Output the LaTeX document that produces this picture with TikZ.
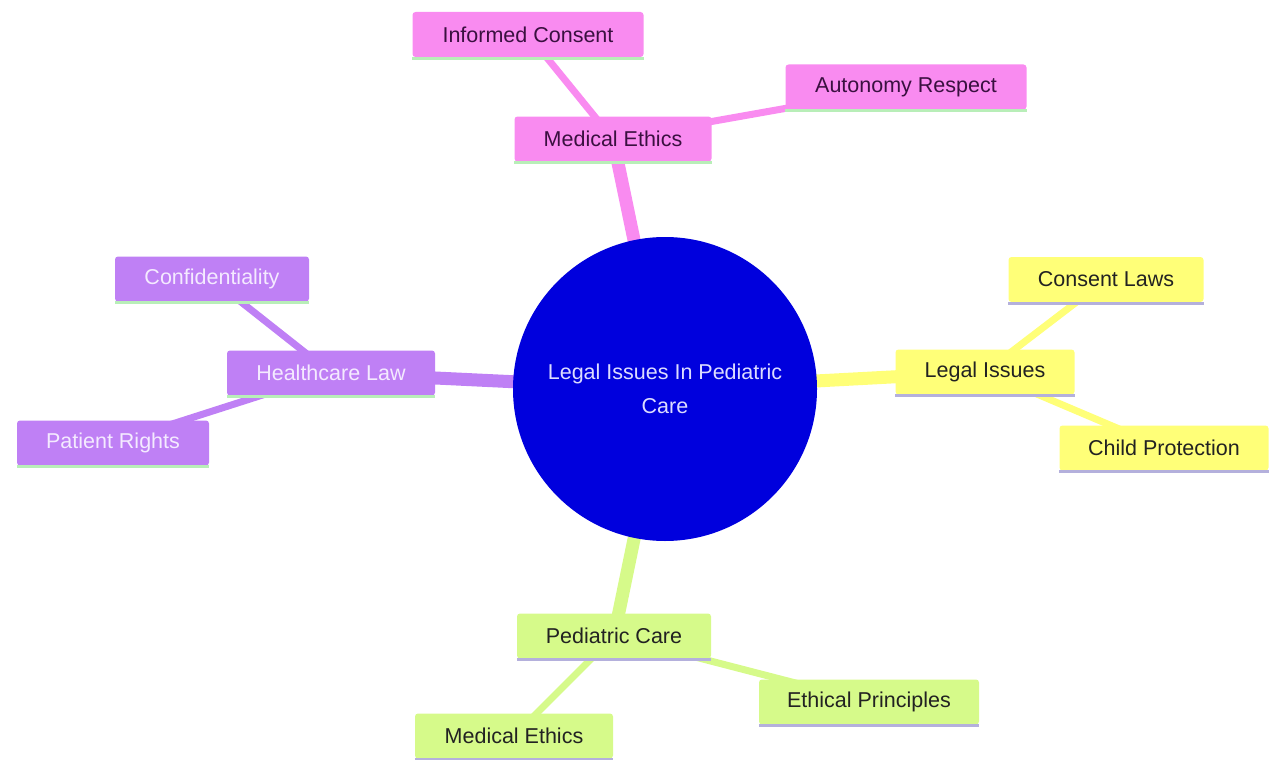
\documentclass[tikz,border=0pt]{standalone}
\usepackage{fontspec}
\setmainfont{Liberation Sans}
\usetikzlibrary{backgrounds}
\definecolor{pk}{HTML}{F98BF0}
\definecolor{pktext}{HTML}{3A1040}
\definecolor{pu}{HTML}{BF80F5}
\definecolor{putext}{HTML}{F4EAFF}
\definecolor{ye}{HTML}{FFFF78}
\definecolor{yetext}{HTML}{222222}
\definecolor{gr}{HTML}{D6FA8A}
\definecolor{grtext}{HTML}{222222}
\definecolor{cblue}{HTML}{0000DD}
\definecolor{ctext}{HTML}{DCDCFF}
\definecolor{bgreen}{HTML}{B8EEB8}
\definecolor{blav}{HTML}{B4B0DC}
\begin{document}
\begin{tikzpicture}[x=1pt,y=-1pt,
  font=\fontsize{21.5}{26}\selectfont,
  box/.style={rectangle, rounded corners=3pt, minimum height=45pt, inner sep=0pt, anchor=center},
  pkbox/.style={box, fill=pk, text=pktext},
  pubox/.style={box, fill=pu, text=putext},
  yebox/.style={box, fill=ye, text=yetext},
  grbox/.style={box, fill=gr, text=grtext},
  mainedge/.style={line width=13pt},
  subedge/.style={line width=7pt},
  bline/.style={line width=3pt}]
\useasboundingbox (0,0) rectangle (1269,760);

\node[circle, fill=cblue, minimum size=304pt, inner sep=0pt, align=center, text=ctext,
  font=\fontsize{21.5}{34}\selectfont] (c) at (665,389) {Legal Issues In Pediatric\\Care};

% Medical Ethics branch (pink)
\node[pkbox, minimum width=197pt] (me) at (613,139) {Medical Ethics};
\node[pkbox, minimum width=231pt] (ic) at (528,34.5) {Informed Consent};
\node[pkbox, minimum width=241pt] (ar) at (906,87) {Autonomy Respect};

% Healthcare Law branch (purple)
\node[pubox, minimum width=208pt] (hl) at (331,373) {Healthcare Law};
\node[pubox, minimum width=194pt] (cf) at (212,279) {Confidentiality};
\node[pubox, minimum width=192pt] (pr) at (113,443) {Patient Rights};

% Legal Issues branch (yellow)
\node[yebox, minimum width=179pt] (li) at (985,372) {Legal Issues};
\node[yebox, minimum width=195pt] (cl) at (1106,279.5) {Consent Laws};
\node[yebox, minimum width=209pt] (cp) at (1164,448) {Child Protection};

% Pediatric Care branch (green)
\node[grbox, minimum width=194pt] (pc) at (614,636) {Pediatric Care};
\node[grbox, minimum width=220pt] (ep) at (869,702) {Ethical Principles};
\node[grbox, minimum width=198pt] (mb) at (514,736) {Medical Ethics};

% bottom border lines
\foreach \n in {me,ic,ar,hl,cf,pr}
  \draw[bline, bgreen] ([yshift=-1pt]\n.south west) -- ([yshift=-1pt]\n.south east);
\foreach \n in {li,cl,cp,pc,ep,mb}
  \draw[bline, blav] ([yshift=-1pt]\n.south west) -- ([yshift=-1pt]\n.south east);

\begin{scope}[on background layer]
  \draw[mainedge, pk] (c.center) -- (me.center);
  \draw[subedge, pk] (me.center) -- (ic.center);
  \draw[subedge, pk] (me.center) -- (ar.center);
  \draw[mainedge, pu] (c.center) -- (hl.center);
  \draw[subedge, pu] (hl.center) -- (cf.center);
  \draw[subedge, pu] (hl.center) -- (pr.center);
  \draw[mainedge, ye] (c.center) -- (li.center);
  \draw[subedge, ye] (li.center) -- (cl.center);
  \draw[subedge, ye] (li.center) -- (cp.center);
  \draw[mainedge, gr] (c.center) -- (pc.center);
  \draw[subedge, gr] (pc.center) -- (ep.center);
  \draw[subedge, gr] (pc.center) -- (mb.center);
\end{scope}
\end{tikzpicture}
\end{document}
